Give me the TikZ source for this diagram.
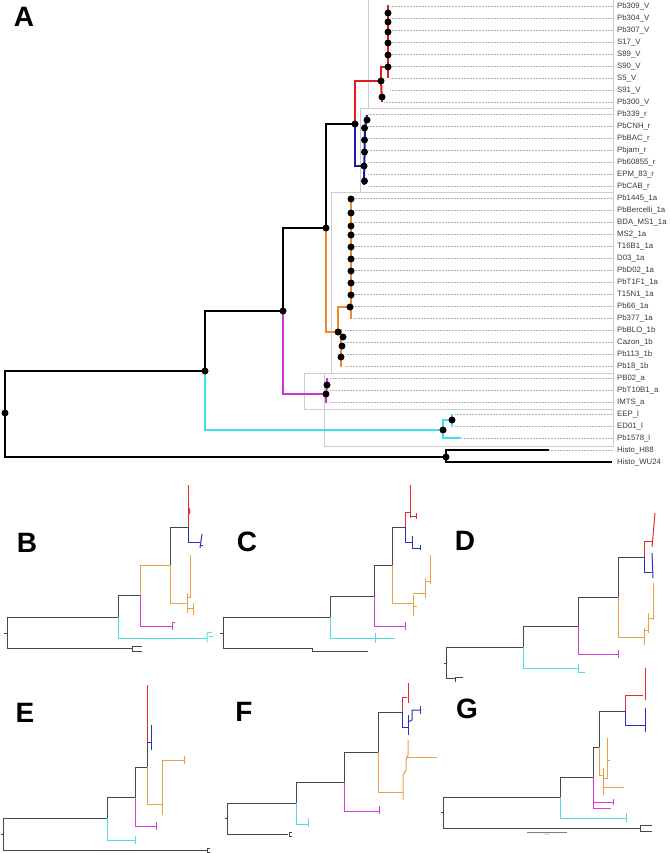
\documentclass[tikz,border=0pt]{standalone}
\usepackage{fontspec}
\setmainfont{Liberation Sans}
\definecolor{cRed}{RGB}{230,25,25}
\definecolor{cBlue}{RGB}{25,25,175}
\definecolor{cOrange}{RGB}{240,140,40}
\definecolor{cMag}{RGB}{205,50,210}
\definecolor{cCyan}{RGB}{60,225,235}
\definecolor{sRed}{RGB}{225,45,45}
\definecolor{sBlue}{RGB}{40,50,190}
\definecolor{sOrange}{RGB}{235,160,70}
\definecolor{sMag}{RGB}{210,60,215}
\definecolor{sCyan}{RGB}{80,220,230}
\begin{document}
\begin{tikzpicture}[x=1pt,y=-1pt,
  tb/.style={line width=2pt, draw=black},
  tR/.style={line width=2pt, draw=cRed},
  tB/.style={line width=2pt, draw=cBlue},
  tO/.style={line width=2pt, draw=cOrange},
  tM/.style={line width=2pt, draw=cMag},
  tC/.style={line width=2pt, draw=cCyan},
  dotline/.style={draw=black!30, line width=0.45pt, dash pattern=on 0.5pt off 1pt},
  boxst/.style={draw=black!20, line width=0.6pt},
  lab/.style={anchor=base west, inner sep=0pt, text=black!78, font=\fontsize{7.8}{9}\selectfont},
  letter/.style={font=\fontsize{28}{30}\selectfont\bfseries, inner sep=0pt},
  mk/.style={fill=black},
  mini/.style={line width=1pt, draw=black!72},
  mR/.style={line width=1pt, draw=sRed},
  mB/.style={line width=1pt, draw=sBlue},
  mO/.style={line width=1pt, draw=sOrange},
  mM/.style={line width=1pt, draw=sMag},
  mC/.style={line width=1pt, draw=sCyan},
  line join=miter]
\useasboundingbox (0,0) rectangle (669,853);

%% ================= Panel A =================
\node[letter] (pA) at (24,17) {A};

% clade boxes
\draw[boxst] (368,-1) rectangle (613,108);
\draw[boxst] (360,108) rectangle (613,192);
\draw[boxst] (331,192) rectangle (613,373);
\draw[boxst] (324,373) rectangle (613,446);
\draw[boxst] (304,373) rectangle (613,409);

% labels and dotted guide lines
\foreach \t/\x [count=\i] in {
 Pb309\_V/390, Pb304\_V/390, Pb307\_V/390, S17\_V/390, S89\_V/390, S90\_V/390, S5\_V/390, S91\_V/390, Pb300\_V/384,
 Pb339\_r/368, PbCNH\_r/368, PbBAC\_r/368, Pbjam\_r/368, Pb60855\_r/368, EPM\_83\_r/368, PbCAB\_r/368,
 Pb1445\_1a/353, PbBercelli\_1a/353, BDA\_MS1\_1a/353, MS2\_1a/353, T16B1\_1a/353, D03\_1a/353, PbD02\_1a/353,
 PbT1F1\_1a/353, T15N1\_1a/353, Pb66\_1a/353, Pb377\_1a/353,
 PbBLO\_1b/345, Cazon\_1b/345, Pb113\_1b/345, Pb18\_1b/345,
 PB02\_a/330, PbT10B1\_a/330, IMTS\_a/330,
 EEP\_l/455, ED01\_l/455, Pb1578\_l/462, Histo\_H88/549, Histo\_WU24/613}
{
  \pgfmathsetmacro\yy{6+12*(\i-1)}
  \node[lab] (L\i) at (617,\yy+2.8) {\t};
  \coordinate (T\i) at (\x,\yy);
  \draw[dotline] (T\i) -- (613,\yy);
}

% internal nodes
\coordinate (root) at (5,413);
\coordinate (nH) at (446,457);
\coordinate (n1) at (205,371);
\coordinate (nc1) at (443,430);
\coordinate (nc2) at (452,420);
\coordinate (n2) at (283,311);
\coordinate (nm) at (326,394);
\coordinate (nm2) at (327,385);
\coordinate (n3) at (326,228);
\coordinate (no) at (338,332);
\coordinate (nob) at (341,332);
\coordinate (no2) at (350,307);
\coordinate (n4) at (355,124);
\coordinate (nr) at (381,81);
\coordinate (nr2) at (387,67);
\coordinate (nb) at (364,166);
\coordinate (tH88) at (549,450);
\coordinate (tWU) at (612,462);
\coordinate (tEEP) at (452,414);
\coordinate (tED) at (452,427);
\coordinate (tPb1578) at (461,438);
\coordinate (tPB02) at (327,378);
\coordinate (tIMTS) at (326,403);
\coordinate (tO1) at (351,197);
\coordinate (tO2) at (351,319);
\coordinate (tOb) at (341,367);
\coordinate (tR1) at (388,5);
\coordinate (tR2) at (388,78);
\coordinate (tR3) at (382,102);
\coordinate (tB1) at (367,115);
\coordinate (tB2) at (365,128);
\coordinate (tB3) at (364,185);

% branches
\draw[tb] (root) |- (n1);
\draw[tb] (root) |- (nH);
\draw[tb] (nH) |- (tH88);
\draw[tb] (nH) |- (tWU);
\draw[tb] (n1) |- (n2);
\draw[tC] (n1) |- (nc1);
\draw[tC] (nc1) |- (nc2);
\draw[tC] (nc1) |- (tPb1578);
\draw[tC] (tEEP) -- (tED);
\draw[tb] (n2) |- (n3);
\draw[tM] (n2) |- (nm);
\draw[tM] (tPB02) -- (nm2) -- (nm) -- (tIMTS);
\draw[tb] (n3) |- (n4);
\draw[tO] (n3) |- (no);
\draw[tO] (no) |- (no2);
\draw[tO] (tO1) -- (tO2);
\draw[tO] (no) -- (nob);
\draw[tO] (341,329) -- (tOb);
\draw[tR] (n4) |- (nr);
\draw[tB] (n4) |- (nb);
\draw[tR] (nr) |- (nr2);
\draw[tR] (nr) -- (tR3);
\draw[tR] (tR1) -- (tR2);
\draw[tB] (tB1) -- (tB2) -- (tB3);

% node markers
\foreach \c in {root,nH,n1,nc1,nc2,n2,nm,nm2,n3,no,no2,n4,nr,nb}
  \fill[mk] (\c) circle (3.5pt);
\foreach \yy in {13,22,32,43,55,67}
  \fill[mk] (388,\yy) circle (3.5pt);
\fill[mk] (382,97) circle (3.5pt);
\foreach \xx/\yy in {367/120,364.5/128,364.5/140,364.5/152,364.5/181}
  \fill[mk] (\xx,\yy) circle (3.5pt);
\foreach \yy in {199,213,226,235,247,259,271,283,295}
  \fill[mk] (351,\yy) circle (3.5pt);
\foreach \xx/\yy in {343/337,342/346,341/357}
  \fill[mk] (\xx,\yy) circle (3.5pt);

%% ================= Panel B =================
\node[letter] (pB) at (27,543) {B};
\draw[mini] (4,633) -- (7,633);
\draw[mini] (7,617) -- (7,648);
\draw[mini] (7,617) -- (118,617) -- (118,595) -- (140,595);
\draw[mini] (7,648) -- (132,648);
\draw[mini] (142,646) -- (132,646) -- (132,651) -- (142,651);
\draw[mO] (140,595) -- (140,565) -- (170,565);
\draw[mini] (170,565) -- (170,527) -- (188,527);
\draw[mR] (188,527) -- (188,485);
\draw[mR] (188,516) -- (190,512) -- (189,508);
\draw[mB] (188,527) -- (188,542) -- (200,542);
\draw[mB] (200,548) -- (202,534);
\draw[mB] (200,545) -- (203,545);
\draw[mO] (170,565) -- (170,603) -- (187,603);
\draw[mO] (187,593) -- (187,613);
\draw[mO] (187,597) -- (190,597) -- (190,555);
\draw[mO] (187,608) -- (193,608);
\draw[mO] (193,603) -- (193,615);
\draw[mM] (140,595) -- (140,626) -- (172,626);
\draw[mM] (175,622) -- (172,622) -- (172,630);
\draw[mC] (118,617) -- (118,638) -- (207,638);
\draw[mC] (212,632) -- (207,633) -- (207,642);
\draw[mC] (209,636) -- (213,636);

%% ================= Panel C =================
\node[letter] (pC) at (247,542) {C};
\draw[mini] (220,633) -- (223,633);
\draw[mini] (223,617) -- (223,648);
\draw[mini] (223,617) -- (330,617) -- (330,596) -- (374,596) -- (374,565) -- (392,565) -- (392,527) -- (405,527);
\draw[mini] (223,648) -- (312,648) -- (312,651) -- (368,651);
\draw[mR] (405,527) -- (405,512) -- (410,512);
\draw[mR] (410,485) -- (410,518);
\draw[mR] (410,516) -- (416,516);
\draw[mR] (416,513) -- (416,519);
\draw[mB] (405,527) -- (405,542) -- (412,542);
\draw[mB] (412,536) -- (412,548) -- (420,548);
\draw[mB] (420,545) -- (420,550);
\draw[mO] (392,565) -- (392,603) -- (413,603);
\draw[mO] (413,595) -- (413,616);
\draw[mO] (413,606) -- (417,606);
\draw[mO] (413,593) -- (425,593);
\draw[mO] (425,578) -- (425,598);
\draw[mO] (425,581) -- (430,581);
\draw[mO] (430,555) -- (430,584);
\draw[mM] (374,596) -- (374,626) -- (405,626);
\draw[mM] (405,622) -- (405,630);
\draw[mC] (330,617) -- (330,638) -- (395,638);
\draw[mC] (375,633) -- (375,643);

%% ================= Panel D =================
\node[letter] (pD) at (465,541) {D};
\draw[mini] (444,663) -- (446,663);
\draw[mini] (446,647) -- (446,678) -- (455,678);
\draw[mini] (455,682) -- (455,677) -- (463,677);
\draw[mini] (446,647) -- (523,647) -- (523,626) -- (578,626) -- (578,597) -- (618,597) -- (618,557) -- (644,557);
\draw[mR] (644,557) -- (644,541) -- (652,541);
\draw[mR] (655,513) -- (652,547);
\draw[mB] (644,557) -- (644,572) -- (652,572);
\draw[mB] (652,553) -- (653,578);
\draw[mO] (618,597) -- (618,637) -- (644,637);
\draw[mO] (644,628) -- (644,645);
\draw[mO] (644,630) -- (648,630);
\draw[mO] (648,613) -- (648,633);
\draw[mO] (648,618) -- (653,618);
\draw[mO] (653,583) -- (653,620);
\draw[mM] (578,626) -- (578,654) -- (618,654);
\draw[mM] (618,650) -- (618,658);
\draw[mC] (523,647) -- (523,668) -- (578,668);
\draw[mC] (578,664) -- (578,672) -- (585,672);

%% ================= Panel E =================
\node[letter] (pE) at (25,713) {E};
\draw[mini] (1,834) -- (3,834);
\draw[mini] (3,818) -- (3,850) -- (207,850);
\draw[mini] (210,848) -- (207,848) -- (207,852) -- (210,852);
\draw[mini] (3,818) -- (107,818) -- (107,797) -- (135,797) -- (135,767) -- (147,767) -- (147,742);
\draw[mR] (147,742) -- (147,685);
\draw[mB] (147,742) -- (151,742);
\draw[mB] (151,725) -- (151,750);
\draw[mO] (147,767) -- (147,804) -- (162,804);
\draw[mO] (162,760) -- (162,815);
\draw[mO] (162,760) -- (184,760);
\draw[mO] (184,756) -- (184,764);
\draw[mM] (135,797) -- (135,826) -- (156,826);
\draw[mM] (156,822) -- (156,830);
\draw[mC] (107,818) -- (107,840) -- (135,840);
\draw[mC] (135,836) -- (135,844);

%% ================= Panel F =================
\node[letter] (pF) at (244,712) {F};
\draw[mini] (225,818) -- (227,818);
\draw[mini] (227,803) -- (227,834) -- (288,834);
\draw[mini] (292,832) -- (289,832) -- (289,836) -- (292,836);
\draw[mini] (227,803) -- (296,803) -- (296,782) -- (344,782) -- (344,752) -- (378,752) -- (378,712) -- (402,712);
\draw[mC] (296,803) -- (296,824) -- (308,824);
\draw[mC] (308,818) -- (308,827);
\draw[mM] (344,782) -- (344,811) -- (379,811);
\draw[mM] (379,806) -- (379,814);
\draw[mO] (378,752) -- (378,792) -- (403,792);
\draw[mO] (403,800) -- (403,775) -- (406,770) -- (406,760) -- (408,755) -- (408,740);
\draw[mO] (406,757) -- (437,757);
\draw[mR] (402,712) -- (402,697) -- (407,697);
\draw[mR] (408,683) -- (408,703);
\draw[mB] (402,712) -- (402,727) -- (408,727);
\draw[mB] (408,715) -- (408,735);
\draw[mB] (408,722) -- (412,720) -- (412,710) -- (420,710);
\draw[mB] (420,706) -- (420,714);

%% ================= Panel G =================
\node[letter] (pG) at (467,709) {G};
\draw[mini] (441,812) -- (443,812);
\draw[mini] (443,797) -- (443,828) -- (640,828);
\draw[mini] (652,825) -- (640,825) -- (640,831) -- (652,831);
\draw[mini] (443,797) -- (560,797) -- (560,777) -- (593,777) -- (593,747) -- (599,747) -- (599,711) -- (625,711);
\draw[mC] (560,797) -- (560,818) -- (626,818);
\draw[mC] (626,813) -- (626,822);
\draw[mM] (593,777) -- (593,808) -- (611,808);
\draw[mM] (593,802) -- (613,802);
\draw[mM] (613,799) -- (613,805);
\draw[mO] (599,747) -- (599,775) -- (603,775);
\draw[mO] (603,768) -- (603,795);
\draw[mO] (603,787) -- (624,787);
\draw[mO] (603,778) -- (607,778) -- (607,738);
\draw[mO] (607,760) -- (610,760);
\draw[mR] (625,711) -- (625,695) -- (643,695);
\draw[mR] (645,668) -- (645,700);
\draw[mB] (625,711) -- (625,725) -- (645,725);
\draw[mB] (645,708) -- (645,732);
\draw[line width=0.6pt, draw=black!50] (527,832) -- (567,832);
\node[inner sep=0pt, font=\fontsize{2.5}{3}\selectfont, text=black!50] (scl) at (547,835) {0.02};
\end{tikzpicture}
\end{document}
